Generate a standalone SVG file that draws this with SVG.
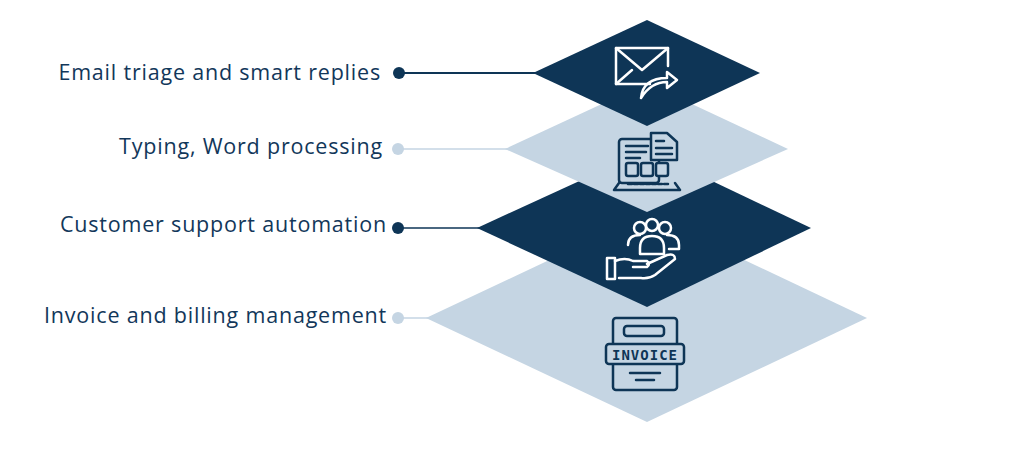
<svg xmlns="http://www.w3.org/2000/svg" width="1024" height="455" viewBox="0 0 1024 455">
<style>
.lbl{font-family:"Open Sans","Liberation Sans",sans-serif;font-size:21.5px;letter-spacing:0.8px;fill:#12375a;text-anchor:end}
.dk{fill:#0e3556}.lt{fill:#c5d5e3}
.wi{fill:none;stroke:#fff;stroke-width:2.5;stroke-linejoin:round;stroke-linecap:round}
.di{fill:none;stroke:#0e3556;stroke-width:2.5;stroke-linejoin:round;stroke-linecap:round}
</style>
<rect width="1024" height="455" fill="#fff"/>
<g id="connectors">
<line x1="399" y1="73" x2="540" y2="73" stroke="#0e3556" stroke-width="2"/>
<circle cx="399" cy="73" r="6" class="dk"/>
<line x1="398" y1="149" x2="510" y2="149" stroke="#c5d5e3" stroke-width="1.5"/>
<circle cx="398" cy="149" r="6" class="lt"/>
<line x1="398" y1="228" x2="480" y2="228" stroke="#0e3556" stroke-width="1.5"/>
<circle cx="398" cy="228" r="6" class="dk"/>
<line x1="398" y1="318" x2="430" y2="318" stroke="#c5d5e3" stroke-width="1.5"/>
<circle cx="398" cy="318" r="6" class="lt"/>
</g>
<g id="layer4">
<polygon class="lt" points="426,318 647,214 867,318 647,422"/>
<text class="lbl" x="387" y="323">Invoice and billing management</text>
<g class="di">
<rect x="613" y="318" width="64" height="72" rx="3"/>
<rect x="624" y="326" width="40" height="10" rx="3"/>
<rect x="606" y="344" width="78" height="20" rx="3" fill="#c5d5e3"/>
<line x1="630" y1="373" x2="660" y2="373"/><line x1="636" y1="380" x2="654" y2="380"/>
</g>
<text x="645" y="360" font-family="DejaVu Sans Mono,monospace" font-weight="bold" font-size="14" fill="#0e3556" text-anchor="middle" letter-spacing="1">INVOICE</text>
</g>
<g id="layer3">
<polygon class="dk" points="477,228 647,150 811,228 647,307"/>
<text class="lbl" x="387" y="232">Customer support automation</text>
<g class="wi">
<circle cx="640" cy="228" r="6"/><circle cx="652" cy="225" r="6"/><circle cx="665" cy="228" r="6"/>
<path d="M628,245 q0,-10 12,-10"/><path d="M640,254 v-6 q0,-12 12,-12 q12,0 12,12 v6z"/><path d="M667,235 q12,0 12,10 v4 h-10"/>
<rect x="607" y="258" width="8" height="21"/>
<path d="M615,261 q10,-4 18,0 h14 q4,3 0,6 h-14 M647,264 l20,-9 q8,-2 8,4 l-20,16 q-6,4 -14,3 h-22"/>
</g>
</g>
<g id="layer2">
<polygon class="lt" points="505,149 647,83 788,149 647,212"/>
<text class="lbl" x="383" y="154">Typing, Word processing</text>
<g class="di">
<rect x="619" y="139" width="40" height="44" rx="3"/>
<path d="M651,133 h16 l10,9 v18 h-26z" fill="#c5d5e3"/>
<line x1="626" y1="146" x2="648" y2="146"/><line x1="626" y1="152" x2="646" y2="152"/><line x1="626" y1="158" x2="640" y2="158"/>
<line x1="656" y1="141" x2="664" y2="141"/><line x1="656" y1="148" x2="672" y2="148"/><line x1="656" y1="154" x2="672" y2="154"/>
<rect x="626" y="163" width="12" height="13" rx="2" fill="#c5d5e3"/><rect x="641" y="163" width="12" height="13" rx="2" fill="#c5d5e3"/><rect x="656" y="163" width="12" height="13" rx="2" fill="#c5d5e3"/>
<path d="M619,183 l-5,7 h66 l-5,-7"/>
<line x1="628" y1="184" x2="668" y2="184" stroke-dasharray="4 2"/>
</g>
</g>
<g id="layer1">
<polygon class="dk" points="533,73 647,20 760,73 647,126"/>
<text class="lbl" x="381" y="80">Email triage and smart replies</text>
<g class="wi">
<path d="M668,66 v-18 h-52 v36 h34"/>
<path d="M616,48 l26,22 l26,-22"/><path d="M616,84 l16,-14"/>
<path d="M641,98 q2,-20 26,-20 v-6 l10,8 l-10,8 v-6 q-16,0 -26,16z"/>
</g>
</g>
</svg>
